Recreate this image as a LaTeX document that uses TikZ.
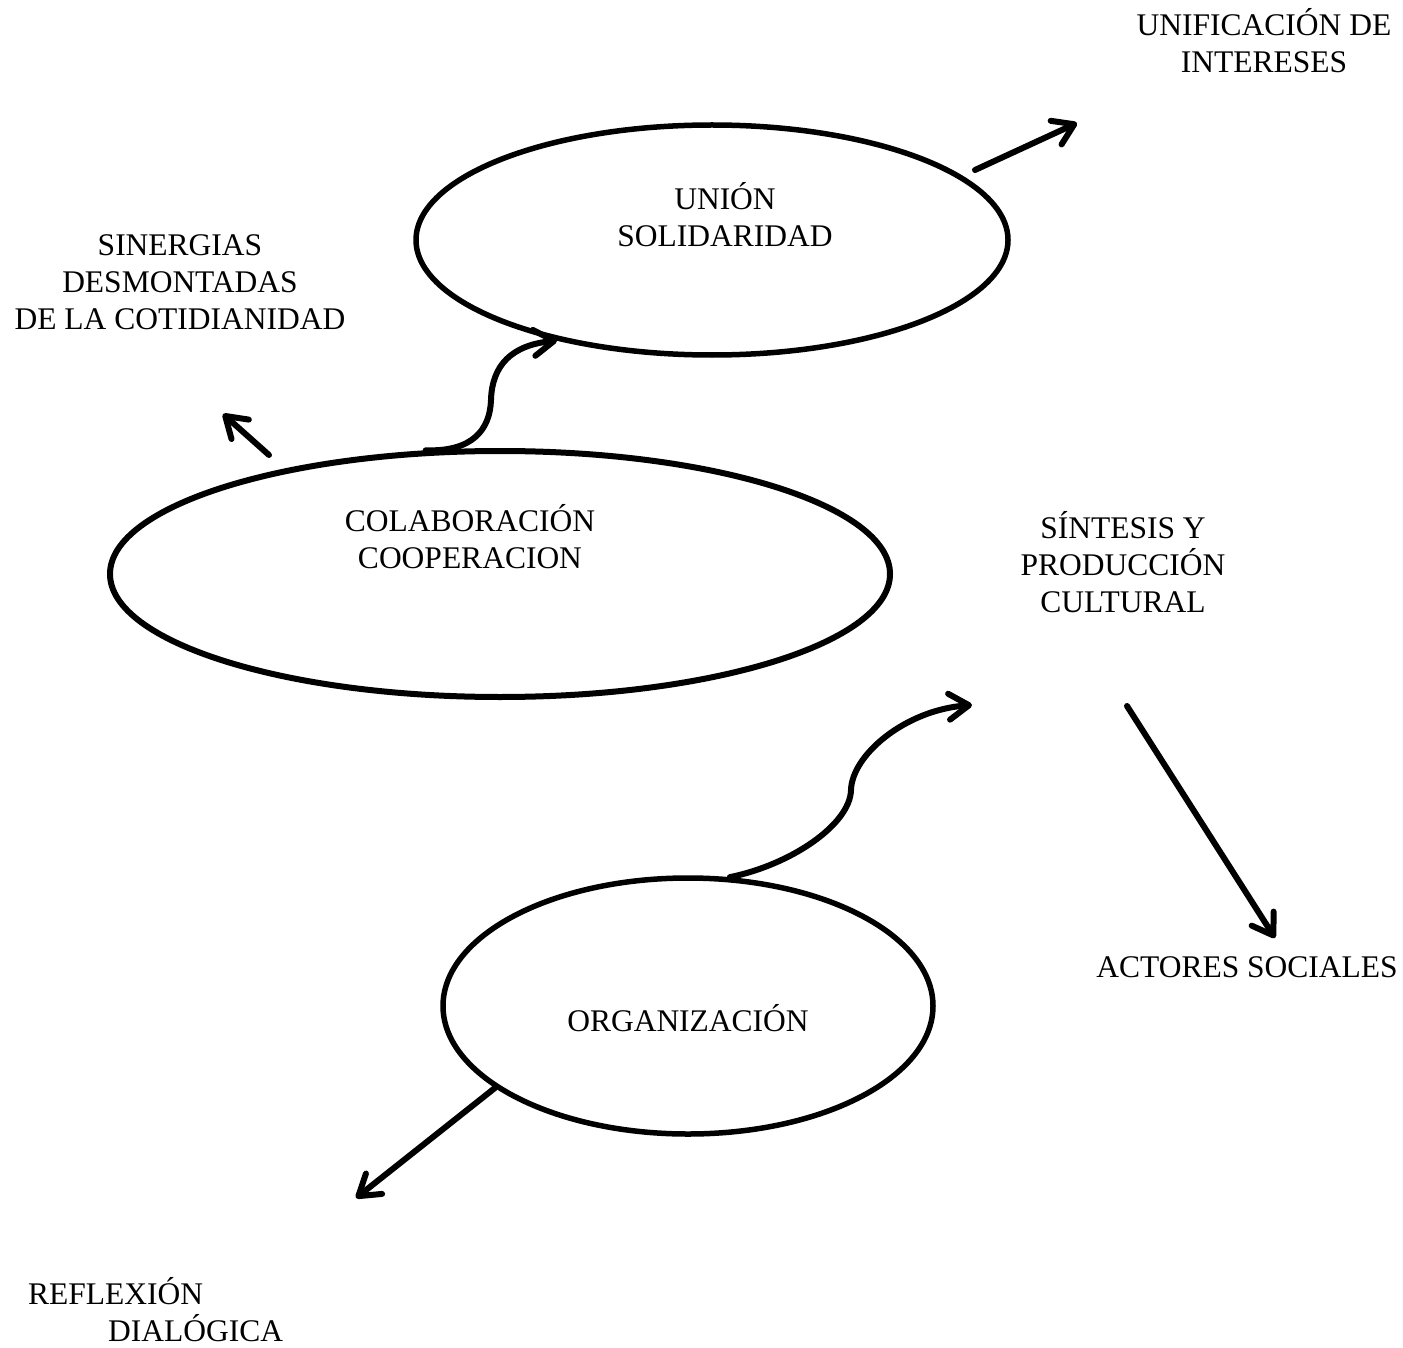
\documentclass[tikz,border=0pt]{standalone}
\usepackage{fontspec}
\setmainfont{Liberation Serif}
\usetikzlibrary{arrows.meta,shapes.geometric}
\begin{document}
\begin{tikzpicture}[x=1pt,y=-1pt,
  lbl/.style={font=\fontsize{31.5}{37}\selectfont, align=center, inner sep=0pt},
  oval/.style={draw, ellipse, line width=5.5pt, inner sep=0pt},
  arr/.style={line width=6pt, line cap=round, line join=round,
    -{Straight Barb[length=20pt,width=26pt,round]}}]
\useasboundingbox (0,0) rectangle (1403,1348);

% ovals
\node[oval, minimum width=592pt, minimum height=230pt] (union) at (712,240) {};
\node[oval, minimum width=780pt, minimum height=246pt, line width=6pt] (colab) at (500,574) {};
\node[oval, minimum width=490pt, minimum height=256pt] (org) at (688,1006) {};

% texts
\node[lbl] (uniontxt) at (725,214.5) {UNIÓN\\SOLIDARIDAD};
\node[lbl] (colabtxt) at (470,536.5) {COLABORACIÓN\\COOPERACION};
\node[lbl] (orgtxt) at (688,1018) {ORGANIZACIÓN};
\node[lbl] (unif) at (1264,40.5) {UNIFICACIÓN DE\\INTERESES};
\node[lbl] (siner) at (180,282.5) {SINERGIAS\\DESMONTADAS\\DE LA COTIDIANIDAD};
\node[lbl] (sint) at (1123,562) {SÍNTESIS Y\\PRODUCCIÓN\\CULTURAL};
\node[lbl] (actores) at (1247,967.5) {ACTORES SOCIALES};
\node[lbl, align=left, anchor=west] (reflex) at (28,1310) {REFLEXIÓN\\\hspace*{80pt}DIALÓGICA};

% free ends
\coordinate (sUnif) at (975,170);
\coordinate (tipUnif) at (1077,123);
\coordinate (sSiner) at (269,455);
\coordinate (tipSiner) at (223,414);
\coordinate (tipSint) at (972,705);
\coordinate (sActor) at (1127,706);
\coordinate (tipActor) at (1275,938);
\coordinate (tipReflex) at (356,1198);

% connectors
\draw[arr] (colab.121) .. controls (472,452) and (490,430) .. (491,400)
  .. controls (492,365) and (512,345) .. (union.213);
\draw[arr] (org.72) .. controls (790,865) and (850,825) .. (851,790)
  .. controls (852,755) and (905,710) .. (tipSint);
\draw[arr] (sUnif) -- (tipUnif);
\draw[arr] (sSiner) -- (tipSiner);
\draw[arr] (sActor) -- (tipActor);
\draw[arr] (org.203) -- (tipReflex);
\end{tikzpicture}
\end{document}
